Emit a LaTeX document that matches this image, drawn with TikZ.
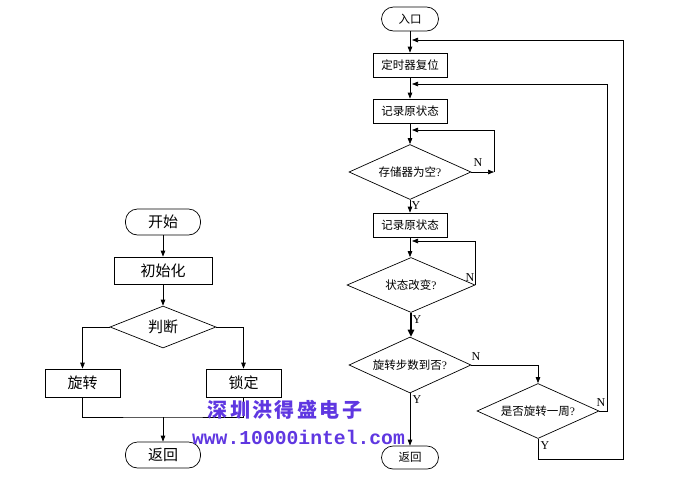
\documentclass[tikz,border=0pt]{standalone}
\usepackage{fontspec}
\setmainfont{Liberation Serif}
\newfontfamily\cjk{Noto Sans CJK SC}
\newfontfamily\wmfont[LetterSpace=12]{Noto Sans CJK SC}
\newfontfamily\wmmono{Liberation Mono}
\usetikzlibrary{shapes.geometric,arrows.meta}
\definecolor{wm}{RGB}{95,55,225}
\newcommand{\rsz}{\cjk\fontsize{11.5}{12}\selectfont}
\newcommand{\lsz}{\cjk\fontsize{15}{16}\selectfont}
\begin{document}
\begin{tikzpicture}[x=1pt,y=-1pt,
  base/.style={draw=black, line width=0.7pt, inner sep=0pt},
  term/.style={base, rectangle, rounded corners=12pt},
  proc/.style={base, rectangle},
  dec/.style={base, diamond, aspect=2.2},
  arr/.style={-{Triangle[length=6pt,width=4.5pt]}},
  bigarr/.style={line width=1.4pt, -{Triangle[length=7pt,width=6.5pt]}},
  ln/.style={line width=0.7pt},
  lbl/.style={font=\fontsize{12}{12}\selectfont, inner sep=0pt}]
\fill[white] (0,0) rectangle (680,477);
\useasboundingbox (0,0) rectangle (680,477);

% ---------- left chart ----------
\node[term, minimum width=75pt, minimum height=26pt, font=\lsz] (start) at (163,222) {开始};
\node[proc, minimum width=98pt, minimum height=27pt, font=\lsz] (init) at (163,270.5) {初始化};
\node[dec, minimum width=106pt, minimum height=42pt, font=\lsz] (judge) at (163,327) {判断};
\node[proc, minimum width=75pt, minimum height=28pt, font=\lsz] (rot) at (82.5,383) {旋转};
\node[proc, minimum width=75pt, minimum height=28pt, font=\lsz] (lock) at (243.5,383) {锁定};
\node[term, minimum width=75pt, minimum height=26pt, font=\lsz] (ret1) at (163,455) {返回};
\coordinate (m1) at (163,417);

\draw[ln,arr] (start) -- (init);
\draw[ln,arr] (init) -- (judge);
\draw[ln,arr] (judge.west) -| (rot.north);
\draw[ln,arr] (judge.east) -| (lock.north);
\draw[ln] (rot.south) |- (m1) -| (lock.south);
\draw[ln,arr] (m1) -- (ret1);

% ---------- right chart ----------
\node[term, minimum width=57pt, minimum height=24pt, font=\rsz] (entry) at (410,19) {入口};
\node[proc, minimum width=74pt, minimum height=24pt, font=\rsz] (reset) at (410,65) {定时器复位};
\node[proc, minimum width=74pt, minimum height=24pt, font=\rsz] (rec1) at (410,111) {记录原状态};
\node[dec, minimum width=122pt, minimum height=55pt, font=\rsz] (d1) at (410,172) {存储器为空{\rmfamily ?}};
\node[proc, minimum width=74pt, minimum height=24pt, font=\rsz] (rec2) at (410,225) {记录原状态};
\node[dec, minimum width=128pt, minimum height=55pt, font=\rsz] (d2) at (411,285) {状态改变{\rmfamily ?}};
\node[dec, minimum width=122pt, minimum height=56pt, font=\rsz] (d3) at (410,365) {旋转步数到否{\rmfamily ?}};
\node[dec, minimum width=122pt, minimum height=55pt, font=\rsz] (d4) at (538,411) {是否旋转一周{\rmfamily ?}};
\node[term, rounded corners=11.5pt, minimum width=57pt, minimum height=23pt, font=\rsz] (ret2) at (410,457.5) {返回};

\coordinate (j0) at (412,40);
\coordinate (j1) at (412,130);
\coordinate (j2) at (412,241);
\coordinate (j3) at (412,84);
\coordinate (c1) at (494,172);
\coordinate (c4) at (607,411);
\coordinate (c5) at (538,459);
\coordinate (c6) at (623,459);

\draw[ln,arr] (entry) -- (reset);
\draw[ln,arr] (reset) -- (rec1);
\draw[ln,arr] (rec1) -- (d1);
\draw[ln,arr] (d1.east) -- (c1);
\draw[ln,arr] (c1) |- (j1);
\draw[ln,arr] (d1) -- (rec2);
\draw[ln,arr] (rec2) -- (rec2 |- d2.north);
\draw[ln,arr] (d2.east) |- (j2);
\draw[bigarr] (d2.south) -- (d2.south |- d3.north);
\draw[ln,arr] (d3.east) -| (d4.north);
\draw[ln,arr] (d3) -- (ret2);
\draw[ln,arr] (d4.east) -- (c4) |- (j3);
\draw[ln,arr] (d4.south) -- (c5) -- (c6) |- (j0);

\node[lbl] (n1) at (478,163) {N};
\node[lbl] (y1) at (416,206) {Y};
\node[lbl] (n2) at (470,278) {N};
\node[lbl] (y2) at (417,320) {Y};
\node[lbl] (n3) at (476,357) {N};
\node[lbl] (y3) at (417,400) {Y};
\node[lbl] (n4) at (601,403) {N};
\node[lbl] (y4) at (545,446) {Y};

% ---------- watermark ----------
\node[inner sep=0pt, text=wm, font={\wmfont\bfseries\fontsize{20}{20}\selectfont}] (wm1) at (285,410) {深圳洪得盛电子};
\node[inner sep=0pt, text=wm, font={\wmmono\bfseries\fontsize{19.7}{20}\selectfont}] (wm2) at (298.5,437) {www.10000intel.com};
\end{tikzpicture}
\end{document}
